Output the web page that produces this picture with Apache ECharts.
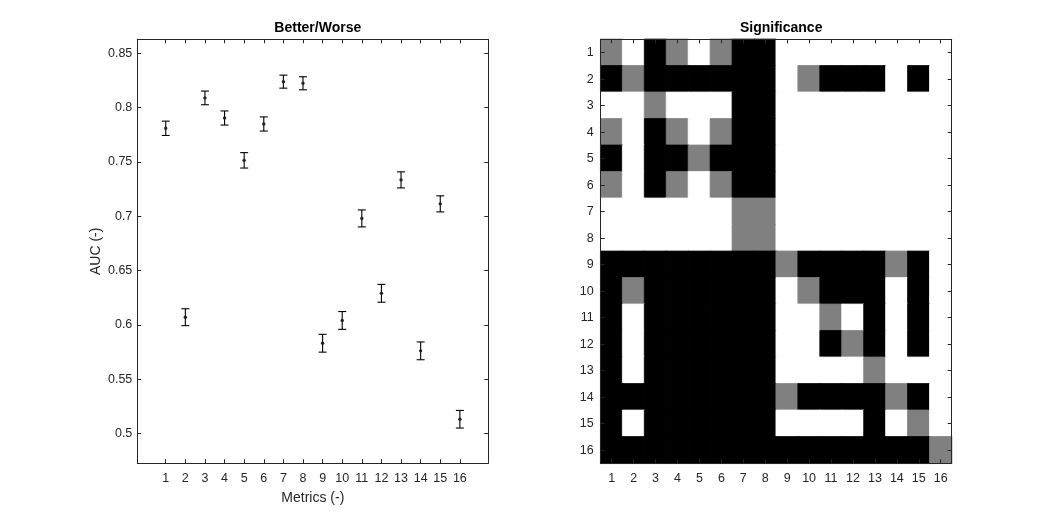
<!DOCTYPE html>
<html><head><meta charset="utf-8">
<script src="https://cdn.jsdelivr.net/npm/echarts@6/dist/echarts.min.js"></script>
<style>html,body{margin:0;padding:0;background:#fff}#c{width:1052px;height:521px}</style>
</head><body><div id="c"></div>
<script>
// ---- data ----
const metrics = [1,2,3,4,5,6,7,8,9,10,11,12,13,14,15,16];
const aucMean = [0.781,0.607,0.809,0.7905,0.7515,0.785,0.824,0.8225,0.583,0.604,0.698,0.629,0.7335,0.576,0.7114,0.513];
const aucErr  = [0.0066,0.0078,0.0063,0.0065,0.0071,0.0065,0.006,0.006,0.0082,0.0082,0.0078,0.0082,0.0074,0.0082,0.0074,0.0081];
const yTicks = [0.5,0.55,0.6,0.65,0.7,0.75,0.8,0.85];
const sigLabels = ['1','2','3','4','5','6','7','8','9','10','11','12','13','14','15','16'];
// 0 = white, 1 = gray, 2 = black ; rows 1..16 top to bottom
const sigRows = [
 [1,0,2,1,0,1,2,2,0,0,0,0,0,0,0,0],
 [2,1,2,2,2,2,2,2,0,1,2,2,2,0,2,0],
 [0,0,1,0,0,0,2,2,0,0,0,0,0,0,0,0],
 [1,0,2,1,0,1,2,2,0,0,0,0,0,0,0,0],
 [2,0,2,2,1,2,2,2,0,0,0,0,0,0,0,0],
 [1,0,2,1,0,1,2,2,0,0,0,0,0,0,0,0],
 [0,0,0,0,0,0,1,1,0,0,0,0,0,0,0,0],
 [0,0,0,0,0,0,1,1,0,0,0,0,0,0,0,0],
 [2,2,2,2,2,2,2,2,1,2,2,2,2,1,2,0],
 [2,1,2,2,2,2,2,2,0,1,2,2,2,0,2,0],
 [2,0,2,2,2,2,2,2,0,0,1,0,2,0,2,0],
 [2,0,2,2,2,2,2,2,0,0,2,1,2,0,2,0],
 [2,0,2,2,2,2,2,2,0,0,0,0,1,0,0,0],
 [2,2,2,2,2,2,2,2,1,2,2,2,2,1,2,0],
 [2,0,2,2,2,2,2,2,0,0,0,0,2,0,1,0],
 [2,2,2,2,2,2,2,2,2,2,2,2,2,2,2,1]
];
const sigColors = ['#ffffff','#808080','#000000'];

const FONT = 'Liberation Sans, Arial, Helvetica, sans-serif';
const AX = '#262626';
const errData = metrics.map((m,i)=>[m, aucMean[i], aucErr[i]]);
const heatData = [];
sigRows.forEach((row,r)=>row.forEach((v,c)=>{
  const col = sigColors[v];
  heatData.push({value:[c, r, v], itemStyle:{color:col, borderColor:col, borderWidth:0.8}});
}));

const XMIN=-0.45, XMAX=17.45, YMIN=0.4724, YMAX=0.863;
const tickStyle = {show:true, inside:true, length:4, lineStyle:{color:AX, width:1}};
const lineStyle = {show:true, onZero:false, lineStyle:{color:AX, width:1}};
const lbl = {color:AX, fontFamily:FONT, fontSize:12.5};

const chart = echarts.init(document.getElementById('c'), null, {renderer:'canvas'});
chart.setOption({
  backgroundColor:'#fff',
  animation:false,
  title:[
    {text:'Better/Worse', left:312.8, top:16, textAlign:'center',
     textStyle:{fontFamily:FONT, fontSize:14, fontWeight:'bold', color:'#000'}},
    {text:'Significance', left:776.2, top:16, textAlign:'center',
     textStyle:{fontFamily:FONT, fontSize:14, fontWeight:'bold', color:'#000'}}
  ],
  grid:[
    {left:137.3, top:39.3, width:351, height:424, containLabel:false},
    {left:600.7, top:39.3, width:351, height:424, containLabel:false}
  ],
  xAxis:[
    {type:'value', gridIndex:0, position:'bottom', min:XMIN, max:XMAX,
     axisLine:lineStyle, axisTick:Object.assign({customValues:metrics}, tickStyle),
     axisLabel:Object.assign({customValues:metrics, margin:9}, lbl),
     splitLine:{show:false},
     name:'Metrics (-)', nameLocation:'middle', nameGap:28,
     nameTextStyle:{fontFamily:FONT, fontSize:14, color:AX}},
    {type:'value', gridIndex:0, position:'top', min:XMIN, max:XMAX,
     axisLine:lineStyle, axisTick:Object.assign({customValues:metrics}, tickStyle),
     axisLabel:{show:false}, splitLine:{show:false}},
    {type:'category', gridIndex:1, position:'bottom', data:sigLabels, z:10,
     axisLine:lineStyle, axisTick:Object.assign({alignWithLabel:true}, tickStyle),
     axisLabel:Object.assign({margin:9, interval:0}, lbl), splitLine:{show:false}},
    {type:'category', gridIndex:1, position:'top', data:sigLabels, z:10,
     axisLine:lineStyle, axisTick:Object.assign({alignWithLabel:true}, tickStyle),
     axisLabel:{show:false}, splitLine:{show:false}}
  ],
  yAxis:[
    {type:'value', gridIndex:0, position:'left', min:YMIN, max:YMAX,
     axisLine:lineStyle, axisTick:Object.assign({customValues:yTicks}, tickStyle),
     axisLabel:Object.assign({customValues:yTicks, margin:5,
       formatter:v=>String(+(+v).toFixed(2))}, lbl),
     splitLine:{show:false},
     name:'AUC (-)', nameLocation:'middle', nameGap:34,
     nameTextStyle:{fontFamily:FONT, fontSize:14, color:AX}},
    {type:'value', gridIndex:0, position:'right', min:YMIN, max:YMAX,
     axisLine:lineStyle, axisTick:Object.assign({customValues:yTicks}, tickStyle),
     axisLabel:{show:false}, splitLine:{show:false}},
    {type:'category', gridIndex:1, position:'left', data:sigLabels, inverse:true, z:10,
     axisLine:lineStyle, axisTick:Object.assign({alignWithLabel:true}, tickStyle),
     axisLabel:Object.assign({margin:7, interval:0}, lbl), splitLine:{show:false}},
    {type:'category', gridIndex:1, position:'right', data:sigLabels, inverse:true, z:10,
     axisLine:lineStyle, axisTick:Object.assign({alignWithLabel:true}, tickStyle),
     axisLabel:{show:false}, splitLine:{show:false}}
  ],
  series:[
    {type:'custom', xAxisIndex:0, yAxisIndex:0, data:errData, clip:false,
     renderItem:function(params, api){
       const x=api.value(0), m=api.value(1), e=api.value(2);
       const t=api.coord([x, m+e]), b=api.coord([x, m-e]), c=api.coord([x, m]);
       const hw=4, st={stroke:'#000', lineWidth:1.1};
       return {type:'group', children:[
         {type:'line', shape:{x1:t[0], y1:t[1], x2:b[0], y2:b[1]}, style:st},
         {type:'line', shape:{x1:t[0]-hw, y1:t[1], x2:t[0]+hw, y2:t[1]}, style:st},
         {type:'line', shape:{x1:b[0]-hw, y1:b[1], x2:b[0]+hw, y2:b[1]}, style:st},
         {type:'circle', shape:{cx:c[0], cy:c[1], r:1.7}, style:{fill:'#222'}}
       ]};
     }},
    {type:'heatmap', xAxisIndex:2, yAxisIndex:2, data:heatData}
  ]
});
</script>
</body></html>
